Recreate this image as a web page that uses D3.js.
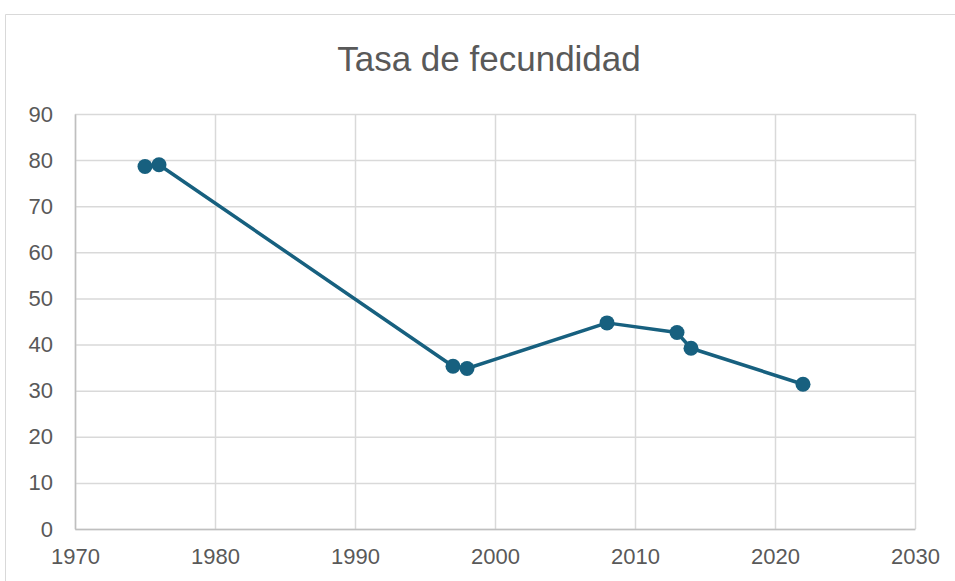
<!DOCTYPE html>
<html>
<head>
<meta charset="utf-8">
<script src="https://cdn.jsdelivr.net/npm/d3@7"></script>
<style>
  body { margin: 0; background: #ffffff; }
  svg { display: block; font-family: "Liberation Sans", "Noto Sans", sans-serif; }
</style>
</head>
<body>
<svg id="chart" width="955" height="581"></svg>
<script>
// datos
const title = 'Tasa de fecundidad';
const years = [1975, 1976, 1997, 1998, 2008, 2013, 2014, 2022];
const rates = [78.6, 79.0, 35.3, 34.8, 44.7, 42.6, 39.2, 31.4];
const xTicks = [1970, 1980, 1990, 2000, 2010, 2020, 2030];
const yTicks = [0, 10, 20, 30, 40, 50, 60, 70, 80, 90];

const svg = d3.select('#chart');
const margin = { left: 75, top: 114, right: 40, bottom: 52 };
const innerWidth = 955 - margin.left - margin.right;
const innerHeight = 581 - margin.top - margin.bottom;
const lineColor = '#17607f';

// marco del gráfico (solo bordes superior e izquierdo, el resto queda fuera)
svg.append('path')
    .attr('d', 'M5.5,581 V14.5 H955')
    .attr('fill', 'none')
    .attr('stroke', '#d9d9d9')
    .attr('stroke-width', 1);

// título
svg.append('text')
    .attr('x', 489).attr('y', 71)
    .attr('text-anchor', 'middle')
    .attr('font-size', '35px')
    .attr('fill', '#595959')
    .text(title);

const xScale = d3.scaleLinear().domain([1970, 2030]).range([0, innerWidth]);
const yScale = d3.scaleLinear().domain([0, 90]).range([innerHeight, 0]);

const g = svg.append('g')
    .attr('transform', `translate(${margin.left}, ${margin.top})`);

// rejilla
const xGrid = d3.axisTop(xScale).tickValues(xTicks).tickSize(innerHeight).tickFormat('');
g.append('g').call(xGrid)
    .attr('transform', `translate(0, ${innerHeight})`)
    .call(s => s.select('.domain').remove())
    .selectAll('.tick line')
    .attr('stroke', '#d9d9d9').attr('stroke-width', 1.5);

const yGrid = d3.axisRight(yScale).tickValues(yTicks).tickSize(innerWidth).tickFormat('');
g.append('g').call(yGrid)
    .call(s => s.select('.domain').remove())
    .selectAll('.tick line')
    .attr('stroke', '#d9d9d9').attr('stroke-width', 1.5);

// ejes
const xAxis = d3.axisBottom(xScale).tickValues(xTicks).tickSize(0).tickPadding(19).tickFormat(d3.format('d'));
g.append('g').call(xAxis)
    .attr('transform', `translate(0, ${innerHeight})`)
    .call(s => s.select('.domain').attr('stroke', '#bfbfbf').attr('stroke-width', 1.5))
    .selectAll('.tick text')
    .attr('font-size', '22px')
    .attr('fill', '#595959');

const yAxis = d3.axisLeft(yScale).tickValues(yTicks).tickSize(0).tickPadding(22);
g.append('g').call(yAxis)
    .call(s => s.select('.domain').attr('stroke', '#bfbfbf').attr('stroke-width', 1.5))
    .selectAll('.tick text')
    .attr('font-size', '22px')
    .attr('fill', '#595959');

// línea
const lineGenerator = d3.line()
    .x((d, i) => xScale(years[i]))
    .y(d => yScale(d));

g.append('path')
    .attr('d', lineGenerator(rates))
    .attr('fill', 'none')
    .attr('stroke', lineColor)
    .attr('stroke-width', 3.5)
    .attr('stroke-linejoin', 'round');

g.selectAll('circle')
    .data(rates)
    .enter()
    .append('circle')
    .attr('cx', (d, i) => xScale(years[i]))
    .attr('cy', d => yScale(d))
    .attr('r', 7.5)
    .attr('fill', lineColor);
</script>
</body>
</html>
